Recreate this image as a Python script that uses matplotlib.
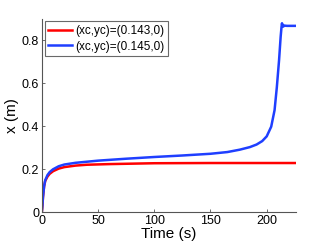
import matplotlib
matplotlib.use("Agg")
import matplotlib.pyplot as plt
import numpy as np

plt.rcParams['font.family'] = ['Liberation Sans', 'DejaVu Sans']

t_red = [0, 0.5, 1, 2, 3, 5, 7, 10, 15, 20, 30, 40, 60, 80, 100, 150, 200, 226]
x_red = [0, 0.03, 0.07, 0.12, 0.145, 0.165, 0.178, 0.19, 0.202, 0.209, 0.216, 0.220, 0.223, 0.225, 0.227, 0.228, 0.228, 0.228]

t_blue = [0, 0.5, 1, 2, 3, 5, 7, 10, 15, 20, 30, 40, 50, 75, 100, 125, 150, 165, 176, 185, 191, 196, 200, 204, 207, 209, 211, 212.4, 213.2, 213.6, 214, 214.5, 215, 216, 218, 226]
x_blue = [0, 0.03, 0.07, 0.12, 0.148, 0.172, 0.186, 0.199, 0.213, 0.221, 0.229, 0.234, 0.239, 0.248, 0.256, 0.263, 0.271, 0.279, 0.290, 0.302, 0.314, 0.330, 0.352, 0.397, 0.474, 0.580, 0.707, 0.815, 0.862, 0.878, 0.862, 0.870, 0.864, 0.867, 0.866, 0.866]

labels = ['(xc,yc)=(0.143,0)', '(xc,yc)=(0.145,0)']
xticks = [0, 50, 100, 150, 200]
yticks = [0, 0.2, 0.4, 0.6, 0.8]
yticklabels = ['0', '0.2', '0.4', '0.6', '0.8']

fig = plt.figure(figsize=(3.27, 2.44), dpi=100)
ax = fig.add_axes([0.128, 0.131, 0.777, 0.793])
ax.plot(t_red, x_red, color='#ff0000', lw=1.8, label=labels[0])
ax.plot(t_blue, x_blue, color='#1f3fff', lw=1.8, label=labels[1])
ax.set_xlim(0, 226)
ax.set_ylim(0, 0.9)
ax.set_xticks(xticks)
ax.set_yticks(yticks)
ax.set_yticklabels(yticklabels)
for s in ['top', 'right']:
    ax.spines[s].set_visible(False)
for s in ['left', 'bottom']:
    ax.spines[s].set_color('#555555')
    ax.spines[s].set_linewidth(0.8)
ax.tick_params(direction='in', length=2.5, width=0.6, color='#555555', labelsize=9, pad=2)
ax.set_xlabel('Time (s)', fontsize=11, labelpad=0)
ax.set_ylabel('x (m)', fontsize=11, labelpad=2)
leg = ax.legend(loc='upper left', fontsize=8.5, frameon=True, fancybox=False,
                borderpad=0.3, handlelength=2.0, handletextpad=0.3, labelspacing=0.3,
                borderaxespad=0.25)
leg.get_frame().set_edgecolor('#444444')
leg.get_frame().set_linewidth(0.8)
fig.savefig('out.png', dpi=100)
